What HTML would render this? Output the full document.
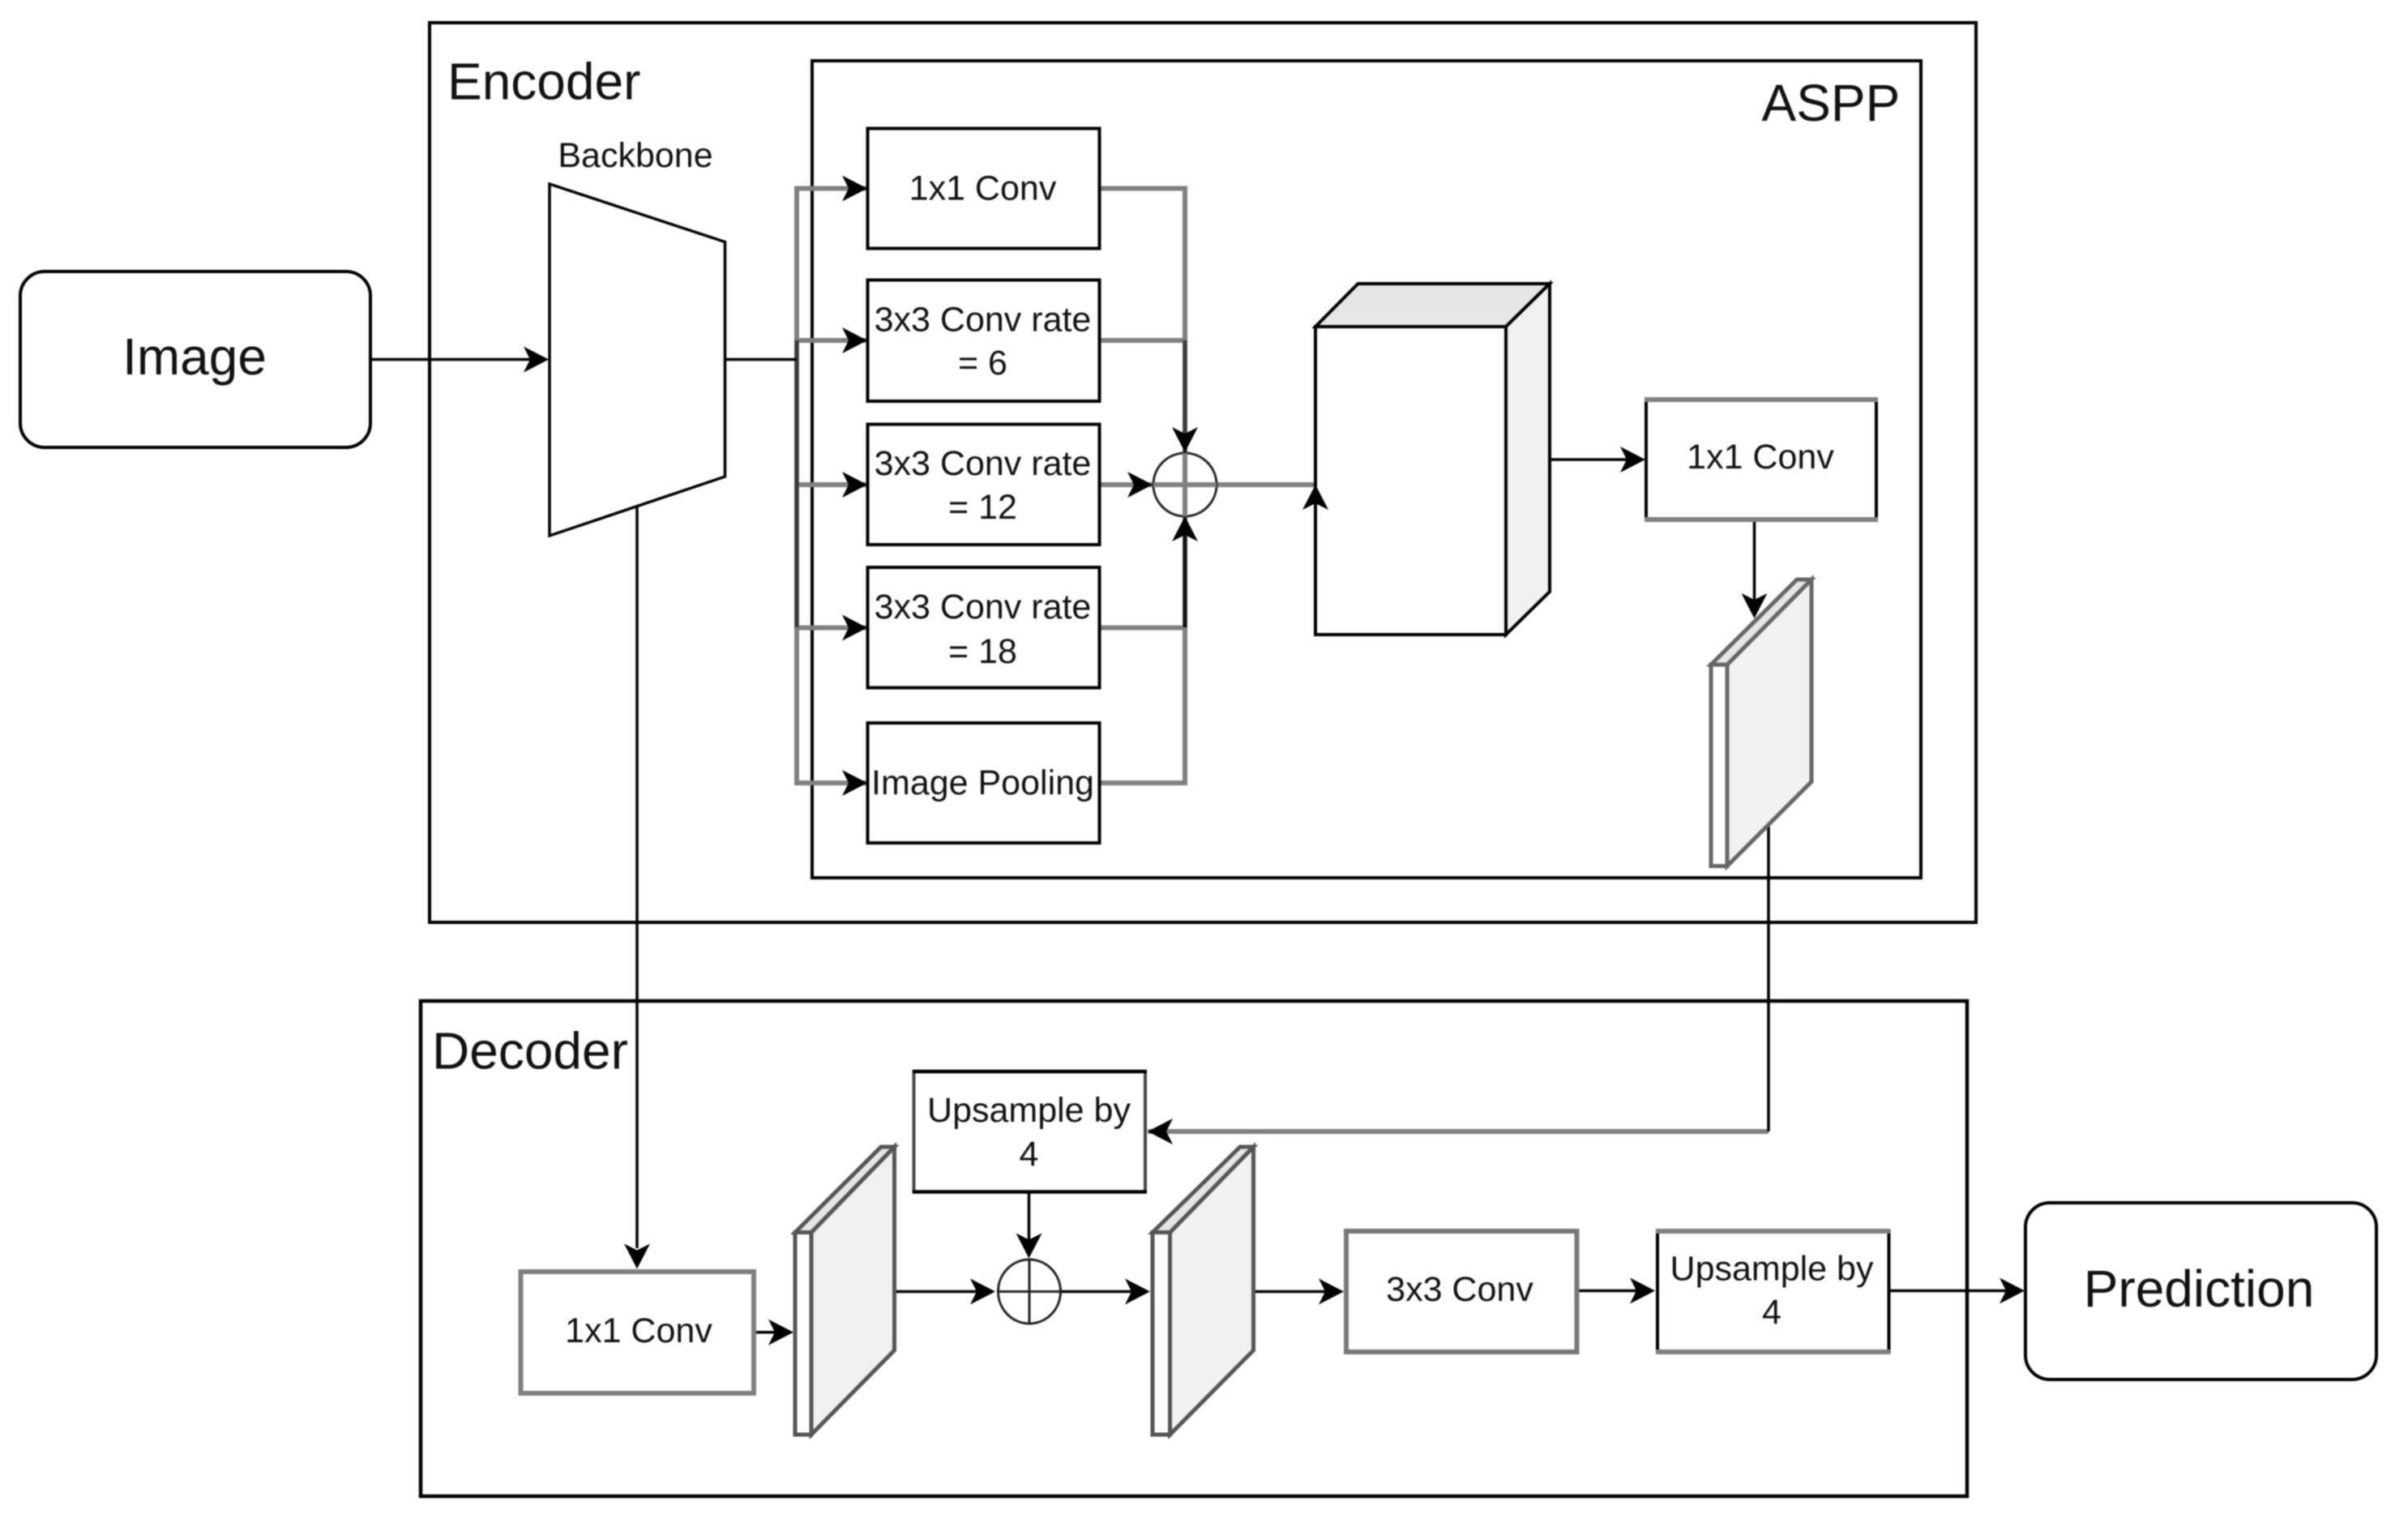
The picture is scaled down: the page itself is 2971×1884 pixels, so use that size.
<!DOCTYPE html>
<html><head><meta charset="utf-8"><style>
html,body{margin:0;padding:0;background:#fff}
svg{display:block;filter:blur(0.7px)}
text{font-family:"Liberation Sans",Arial,sans-serif;fill:#111}
.s{font-size:43px;text-anchor:middle}
.l{font-size:64px}
</style></head><body>
<svg width="2971" height="1884" viewBox="0 0 2971 1884" xmlns="http://www.w3.org/2000/svg">
<defs><path id="a" d="M0 0L-31-16-23 0-31 16Z" fill="#000"/></defs>
<rect width="2971" height="1884" fill="#fff"/>

<!-- containers -->
<g fill="none" stroke="#000" stroke-width="4">
<rect x="530" y="28" width="1908" height="1110"/>
<rect x="1002" y="75" width="1368" height="1008"/>
<rect x="519" y="1235" width="1908" height="611" stroke-width="4.5"/>
<rect x="25" y="335" width="432" height="217" rx="30" fill="#fff"/>
<rect x="2499" y="1484" width="433" height="218" rx="30" fill="#fff"/>
</g>

<!-- backbone -->
<polygon points="678,227 894.5,298.5 894.5,588 678,661" fill="#fff" stroke="#000" stroke-width="3.5"/>

<!-- grey connectors -->
<g fill="none" stroke="#808080" stroke-width="6">
<path d="M1070 232.500H983V966H1070"/>
<path d="M983 420H1070M983 598H1070M983 774.500H1070"/>
<path d="M1357 232.500H1462V966H1357"/>
<path d="M1357 420H1462M1357 598H1623M1357 774.500H1462"/>
<path d="M1416 1396H2182"/>
</g>
<g fill="none" stroke="#3a3a3a" stroke-width="5">
<path d="M983 420V774"/>
<path d="M1462 420V560"/>
</g>
<path d="M1462 640V774" stroke="#111" stroke-width="5" fill="none"/>

<!-- black connectors -->
<g fill="none" stroke="#000" stroke-width="3.500">
<path d="M457 443.500H660"/>
<path d="M894 443.500H983"/>
<path d="M786 625V1540"/>
<path d="M1912 567H2010"/>
<path d="M2164.500 641V745"/>
<path d="M2182 1016V1396"/>
<path d="M1269.500 1470V1530"/>
<path d="M1103 1593.500H1210M1231 1593.500H1400M1546 1593.500H1640M1946 1592.500H2025M2330 1592.500H2480"/>
<path d="M930 1643.700H960"/>
</g>

<!-- boxes -->
<g fill="#fff" stroke="#000" stroke-width="4">
<rect x="1070.500" y="158.500" width="286" height="148"/>
<rect x="1070.500" y="345.500" width="286" height="149.500"/>
<rect x="1070.500" y="523.500" width="286" height="148.500"/>
<rect x="1070.500" y="700" width="286" height="148.500"/>
<rect x="1070.500" y="892" width="286" height="148"/>
</g>
<rect x="2031" y="494" width="284" height="147" fill="#fff" stroke="#000" stroke-width="4"/>
<path d="M2029 493H2317M2029 641H2317" stroke="#808080" stroke-width="6" fill="none"/>
<rect x="642.500" y="1569" width="287.500" height="150" fill="#fff" stroke="#808080" stroke-width="6"/>
<rect x="1127.500" y="1322" width="285.500" height="148.500" fill="#fff" stroke="#444" stroke-width="4"/>
<path d="M1126 1322H1415M1126 1470.500H1415" stroke="#000" stroke-width="4.500" fill="none"/>
<rect x="1661" y="1519" width="284.500" height="149" fill="#fff" stroke="#777" stroke-width="6"/>
<rect x="2045" y="1519" width="285.500" height="149" fill="#fff" stroke="#000" stroke-width="4"/>
<path d="M2043 1519H2332M2043 1668H2332" stroke="#808080" stroke-width="6" fill="none"/>

<!-- cube -->
<polygon points="1623,403 1675.500,350 1912,350 1858,403" fill="#e6e6e6" stroke="#000" stroke-width="4"/>
<polygon points="1858,403 1912,350 1912,730 1858,783" fill="#f1f1f1" stroke="#000" stroke-width="4"/>
<rect x="1623" y="403" width="235" height="380" fill="#fff" stroke="#000" stroke-width="4"/>

<!-- slabs -->
<g stroke-width="5" stroke-linejoin="miter">
<g stroke="#666">
<polygon points="2131,820 2235,715 2235,964.500 2131,1068.500" fill="#f1f1f1"/>
<polygon points="2111,820 2217,715 2235,715 2131,820" fill="#e6e6e6"/>
<rect x="2111" y="820" width="20" height="248.500" fill="#fff"/>
</g>
<g stroke="#555">
<polygon points="1001,1520.500 1103.500,1415 1103.500,1666 1001,1770" fill="#f1f1f1"/>
<polygon points="981,1520.500 1087,1415 1103.500,1415 1001,1520.500" fill="#e6e6e6"/>
<rect x="981" y="1520.500" width="20" height="249.500" fill="#fff"/>
<polygon points="1443.500,1520.500 1546.500,1415 1546.500,1666 1443.500,1770" fill="#f1f1f1"/>
<polygon points="1422,1520.500 1530,1415 1546.500,1415 1443.500,1520.500" fill="#e6e6e6"/>
<rect x="1422" y="1520.500" width="21.500" height="249.500" fill="#fff"/>
</g>
</g>

<!-- summation circles -->
<circle cx="1462" cy="598" r="39" fill="none" stroke="#222" stroke-width="3"/>
<path d="M1423 598H1501" stroke="#808080" stroke-width="6"/>
<path d="M1462 559V637" stroke="#808080" stroke-width="6"/>
<ellipse cx="1270" cy="1593.500" rx="38.500" ry="39.500" fill="#fff" stroke="#222" stroke-width="3"/>
<path d="M1231.500 1593.500H1308.500M1270 1554V1633" stroke="#222" stroke-width="3"/>

<!-- arrowheads -->
<use href="#a" transform="translate(677,443.500)"/>
<use href="#a" transform="translate(1070,232.500)"/>
<use href="#a" transform="translate(1070,420)"/>
<use href="#a" transform="translate(1070,598)"/>
<use href="#a" transform="translate(1070,774.500)"/>
<use href="#a" transform="translate(1070,966)"/>
<use href="#a" transform="translate(1422,598)"/>
<use href="#a" transform="translate(1462,558) rotate(90)"/>
<use href="#a" transform="translate(1462,637) rotate(-90)"/>
<use href="#a" transform="translate(1623,598) rotate(-90)"/>
<use href="#a" transform="translate(2030,567)"/>
<use href="#a" transform="translate(2164.500,763) rotate(90)"/>
<use href="#a" transform="translate(786,1565.500) rotate(90)"/>
<use href="#a" transform="translate(979,1643.700)"/>
<use href="#a" transform="translate(1416,1396) rotate(180)"/>
<use href="#a" transform="translate(1269.500,1552.500) rotate(90)"/>
<use href="#a" transform="translate(1228,1593.500)"/>
<use href="#a" transform="translate(1419,1593.500)"/>
<use href="#a" transform="translate(1658,1593.500)"/>
<use href="#a" transform="translate(2042,1592.500)"/>
<use href="#a" transform="translate(2498,1592.500)"/>

<!-- labels -->
<text class="l" x="552" y="122.500">Encoder</text>
<text class="l" x="2173.500" y="149">ASPP</text>
<text class="l" x="533" y="1318.500">Decoder</text>
<text class="l" x="240" y="462" text-anchor="middle">Image</text>
<text class="l" x="2713" y="1612" text-anchor="middle">Prediction</text>
<text class="s" x="784" y="206">Backbone</text>
<text class="s" x="1212.500" y="246.500">1x1 Conv</text>
<text class="s" x="1212.500" y="408.500">3x3 Conv rate</text>
<text class="s" x="1212.500" y="462">= 6</text>
<text class="s" x="1212.500" y="586">3x3 Conv rate</text>
<text class="s" x="1212.500" y="640">= 12</text>
<text class="s" x="1212.500" y="763">3x3 Conv rate</text>
<text class="s" x="1212.500" y="818">= 18</text>
<text class="s" x="1212.500" y="980">Image Pooling</text>
<text class="s" x="2172" y="578">1x1 Conv</text>
<text class="s" x="788" y="1656">1x1 Conv</text>
<text class="s" x="1269.500" y="1384">Upsample by</text>
<text class="s" x="1269.500" y="1438">4</text>
<text class="s" x="1801" y="1605">3x3 Conv</text>
<text class="s" x="2186" y="1579.500">Upsample by</text>
<text class="s" x="2186" y="1633">4</text>
</svg>
</body></html>
